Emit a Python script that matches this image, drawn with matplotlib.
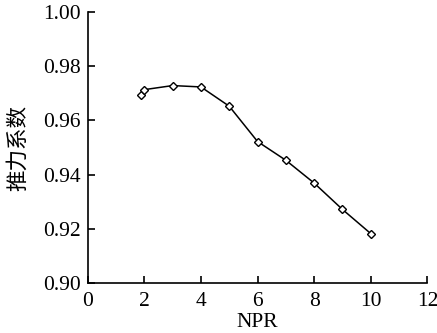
import matplotlib
matplotlib.use("Agg")
import matplotlib.pyplot as plt

npr = [1.88, 2.0, 3.0, 4.0, 5.0, 6.0, 7.0, 8.0, 9.0, 10.0]
thrust_coef = [0.9692, 0.9713, 0.9728, 0.9723, 0.9652, 0.9522, 0.9453, 0.9369, 0.9272, 0.9183]
xticks = [0, 2, 4, 6, 8, 10, 12]
yticks = [0.90, 0.92, 0.94, 0.96, 0.98, 1.00]

serif = ['Liberation Serif', 'DejaVu Serif']
fig = plt.figure(figsize=(4.37, 3.33), dpi=100)
ax = fig.add_axes([0.2007, 0.1492, 0.978 - 0.2007, 0.9649 - 0.1492])
ax.plot(npr, thrust_coef, color='black', lw=1.1, marker='D', markersize=4,
        markerfacecolor='white', markeredgecolor='black', markeredgewidth=1.0)
ax.set_xlim(0, 12)
ax.set_ylim(0.90, 1.00)
ax.set_xticks(xticks)
ax.set_yticks(yticks)
ax.set_xticklabels([str(t) for t in xticks], fontfamily=serif, fontsize=15.5)
ax.set_yticklabels([f"{t:.2f}" for t in yticks], fontfamily=serif, fontsize=15.5)
ax.tick_params(axis='y', direction='in', length=5, width=1.2, pad=5)
ax.tick_params(axis='x', direction='in', length=5, width=1.2, pad=6)
for s in ['top', 'right']:
    ax.spines[s].set_visible(False)
for s in ['left', 'bottom']:
    ax.spines[s].set_linewidth(1.2)
ax.set_xlabel('NPR', fontfamily=serif, fontsize=15.5, labelpad=2)
ax.set_ylabel('推力系数', fontfamily=['Noto Sans CJK SC', 'DejaVu Sans'], fontsize=15.5,
              fontweight='light', labelpad=10)
fig.savefig('out.png', dpi=100)
